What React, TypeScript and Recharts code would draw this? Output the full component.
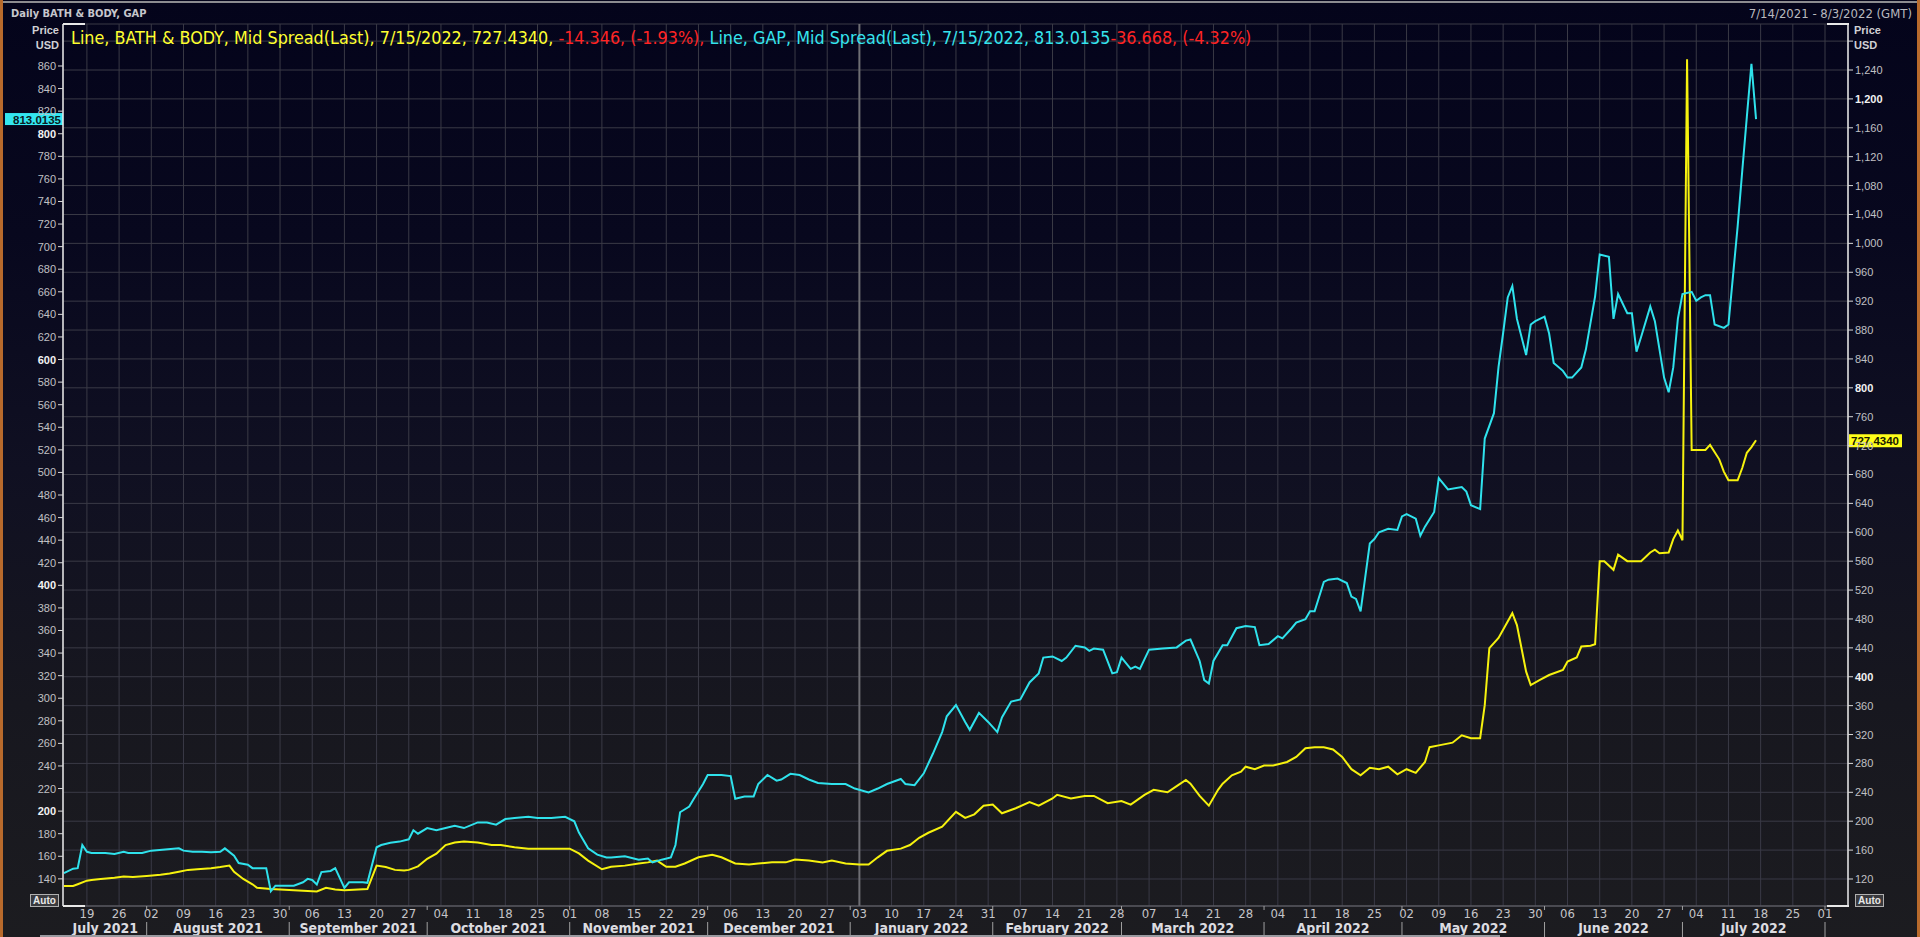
import React from 'react';
import { LineChart, Line, XAxis, YAxis, CartesianGrid, ReferenceLine } from 'recharts';

// x values are calendar days since 2021-07-14
const gapDays = [
  0, 2, 3, 4, 5, 6, 9, 11, 13, 14, 17, 19, 22, 25, 26, 28, 30, 32, 34, 35, 37, 38, 40, 41, 44, 45, 46, 48, 50, 52,
  53, 54, 55, 56, 58, 59, 61, 62, 65, 66, 68, 69, 71, 73, 75, 76, 77, 79, 81, 83, 85, 87, 90, 92, 94, 96, 98, 101, 103, 106,
  109, 111, 112, 114, 116, 118, 119, 122, 125, 127, 128, 130, 132, 133, 134, 136, 137, 139, 140, 143, 145, 146, 148, 150, 151, 153, 155, 156, 158, 160,
  162, 164, 167, 170, 172, 175, 177, 179, 182, 183, 185, 187, 189, 191, 192, 194, 196, 197, 199, 201, 203, 204, 206, 208, 210, 212, 213, 215, 217, 218,
  220, 222, 223, 224, 226, 228, 229, 230, 232, 233, 234, 236, 239, 242, 244, 245, 247, 248, 249, 250, 252, 253, 255, 257, 259, 260, 262, 264, 265, 267,
  268, 270, 271, 272, 274, 275, 277, 279, 280, 281, 282, 284, 285, 286, 288, 290, 291, 292, 294, 295, 296, 298, 299, 301, 304, 305, 306, 308, 309, 311,
  312, 313, 314, 315, 316, 318, 319, 320, 322, 323, 324, 326, 327, 328, 330, 331, 333, 334, 336, 337, 338, 340, 341, 342, 343, 345, 346, 347, 348, 349,
  350, 351, 352, 354, 355, 356, 357, 358, 359, 361, 362, 364, 365, 366, 367, 368,
];
const gapValues = [
  145, 149, 149.5, 170, 164, 163, 163, 162, 164, 163, 163, 165, 166, 167, 165, 164, 164, 163.5, 164, 167, 160.5, 154, 152.5, 149.5, 149.5, 129, 134, 134, 134, 137,
  140, 139, 135, 146, 147, 149.5, 132, 137, 137, 136.5, 168, 170, 172, 173, 175, 183, 180, 185, 183, 185, 187, 185, 190, 190, 188, 193, 194, 195, 194, 194,
  195, 191, 181, 167, 161.5, 159, 159, 160, 157, 158, 154.5, 157, 159, 170, 199, 204, 211, 224, 232, 232, 231, 211, 213, 213, 224, 232, 227, 228, 233, 232,
  228, 225, 224, 224, 220, 216.5, 220, 224, 228.5, 224, 223, 233.5, 251, 270, 284, 294, 279, 272, 287, 279, 270, 283, 297, 299, 314, 322, 336, 337, 333, 336,
  346.5, 345, 342, 344, 343, 322, 323, 336, 326, 328, 326, 343, 344, 345, 351, 352, 333, 316, 313, 333, 347, 347, 362, 364, 363, 347, 348, 355, 353, 362,
  367, 370, 377, 377, 403, 405, 406, 402, 390, 388, 377, 437, 441, 447, 450, 449, 461, 463, 459, 444, 452, 465, 495, 485, 487, 483, 471, 467.5, 530, 552.5,
  593.5, 623.5, 655, 665, 636, 604, 631, 634, 638, 623, 597, 590, 584, 584, 593, 609, 656, 693, 691, 636, 658, 641, 641, 607, 620, 647, 634, 609, 584, 571,
  593, 636, 658, 660, 652, 655, 657, 657, 631, 628, 631, 718, 767, 815, 862, 813.0135,
];

const bbwiDays = [
  0, 2, 3, 5, 6, 8, 11, 13, 15, 18, 21, 23, 25, 27, 29, 32, 34, 36, 37, 39, 41, 42, 45, 48, 52, 55, 57, 59, 61, 64,
  66, 68, 70, 72, 74, 75, 77, 79, 81, 83, 85, 87, 90, 93, 95, 98, 101, 103, 106, 109, 110, 112, 114, 117, 119, 122, 125, 127, 129, 131,
  133, 135, 138, 141, 143, 146, 149, 151, 154, 157, 159, 162, 165, 167, 170, 173, 175, 177, 179, 182, 184, 186, 188, 191, 194, 196, 198, 200, 202, 204,
  207, 210, 212, 215, 216, 219, 222, 224, 227, 230, 232, 235, 237, 240, 242, 244, 245, 247, 249, 251, 252, 254, 256, 257, 259, 261, 263, 266, 268, 270,
  272, 274, 276, 278, 280, 282, 284, 286, 288, 290, 292, 294, 296, 297, 299, 302, 304, 306, 308, 309, 310, 312, 315, 316, 318, 319, 321, 323, 326, 327,
  329, 330, 332, 333, 334, 335, 337, 338, 340, 342, 343, 345, 346, 347, 349, 350, 351, 352, 353, 354, 355, 356, 357, 358, 360, 361, 362, 364, 365, 366,
  367, 368,
];
const bbwiValues = [
  110.3, 110.3, 112.7, 117.7, 118.7, 120, 121.7, 123.6, 122.6, 124.1, 126, 127.6, 130, 132.6, 133.6, 135, 136.5, 138.5, 130, 120, 112.7, 107.8, 106, 105, 103.8, 102.8, 107.8, 105.3, 104.3, 105.3,
  106, 138.5, 136.5, 132.6, 131.6, 132.6, 137.5, 148, 155, 167, 170.5, 172, 170.5, 167, 167, 164, 162, 162, 162, 162, 162, 155.5, 145.5, 133.5, 137, 138.5, 141.5, 143, 145.5, 137,
  137, 141.5, 150, 153.5, 150, 141.5, 140, 141.5, 143, 143, 147, 145.5, 143, 145.5, 141.5, 140, 140, 150, 159, 162, 167, 177, 184, 192.5, 213, 204.5, 209.5, 221.5, 223, 211,
  218, 226.5, 221.5, 231.5, 236.5, 231.5, 235, 235, 225, 228, 223, 236.5, 243.5, 240, 248.5, 257, 252, 235, 221.5, 243.5, 252, 263.5, 268.5, 275.5, 272, 277, 277, 282, 289, 301,
  302.5, 302.5, 299.3, 289, 272, 263.5, 274, 272, 275.5, 265, 272, 267, 282, 302.5, 305, 308.7, 319, 315, 315, 360.6, 439.6, 453.6, 488, 471.6, 407, 388.5, 395.5, 402.4, 409.3, 421,
  426.6, 441.8, 443, 445, 560, 560, 548, 569, 560, 560, 560, 572, 576, 571, 572, 590.5, 602.5, 589, 1255, 714, 714, 714, 714, 721, 701, 684, 672, 672, 689, 710,
  718, 727.434,
];

const leftTicks = [140, 160, 180, 200, 220, 240, 260, 280, 300, 320, 340, 360, 380, 400, 420, 440, 460, 480, 500, 520, 540, 560, 580, 600, 620, 640, 660, 680, 700, 720, 740, 760, 780, 800, 820, 840, 860];
const leftBold = [200, 400, 600, 800];
const rightTicks = [120, 160, 200, 240, 280, 320, 360, 400, 440, 480, 520, 560, 600, 640, 680, 720, 760, 800, 840, 880, 920, 960, 1000, 1040, 1080, 1120, 1160, 1200, 1240, 1280];
const rightBold = [400, 800, 1200];
const rightHidden = [1280];

const monthNames = ['July 2021', 'August 2021', 'September 2021', 'October 2021', 'November 2021', 'December 2021', 'January 2022', 'February 2022', 'March 2022', 'April 2022', 'May 2022', 'June 2022', 'July 2022'];
const monthStarts = [18, 49, 79, 110, 140, 171, 202, 230, 261, 291, 322, 352, 383];
const firstMonday = 5; // 19 Jul 2021
const lastMonday = 383; // 1 Aug 2022
const yearStartTick = 173; // 3 Jan 2022

const X_DOMAIN: [number, number] = [-0.2, 388];
const LEFT_DOMAIN: [number, number] = [115.96, 897.2];
const RIGHT_DOMAIN: [number, number] = [82.6, 1303.7];

const START = Date.UTC(2021, 6, 14);

const weekTicks: number[] = [];
for (let d = firstMonday; d <= lastMonday; d += 7) weekTicks.push(d);

const monthBounds = [0, ...monthStarts];
const monthMids = monthNames.map((_, i) => (monthBounds[i] + monthBounds[i + 1]) / 2);
const monthAxisTicks = [...monthMids, ...monthStarts].sort((a, b) => a - b);

const gapData = gapDays.map((t, i) => ({ t, v: gapValues[i] }));
const bbwiData = bbwiDays.map((t, i) => ({ t, v: bbwiValues[i] }));

const NARROW = '"Liberation Sans Narrow", "DejaVu Sans Condensed", "Liberation Sans", sans-serif';
const AXISF = '"Liberation Sans", "DejaVu Sans", sans-serif';

const dayLabel = (d: number) => {
  const dt = new Date(START + d * 86400000);
  return String(dt.getUTCDate()).padStart(2, '0');
};

const DayTick = (props: any) => {
  const { x, y, payload } = props;
  return (
    <text x={x} y={y + 12} textAnchor="middle" fill="#c4c4c8" fontSize={13} fontFamily={NARROW}>
      {dayLabel(payload.value)}
    </text>
  );
};

const MonthTick = (props: any) => {
  const { x, y, payload } = props;
  const v = payload.value;
  const si = monthStarts.indexOf(v);
  if (si >= 0) {
    return (
      <g>
        <line x1={x} x2={x} y1={y - 14} y2={y - 10} stroke="#a0a0a0" strokeWidth={1} />
        <line x1={x} x2={x} y1={y + 2} y2={y + 17} stroke="#a0a0a0" strokeWidth={1} />
      </g>
    );
  }
  const mi = monthMids.indexOf(v);
  if (mi < 0) return null;
  return (
    <text x={x} y={y + 13} textAnchor="middle" fill="#dcdce0" fontSize={14} fontWeight="bold" fontFamily={NARROW}>
      {monthNames[mi]}
    </text>
  );
};

const LeftTick = (props: any) => {
  const { x, y, payload } = props;
  const bold = leftBold.includes(payload.value);
  return (
    <text x={x} y={y + 4} textAnchor="end" fill={bold ? '#f2f2f2' : '#c0c0c4'} fontWeight={bold ? 'bold' : 'normal'} fontSize={11} fontFamily={AXISF}>
      {payload.value}
    </text>
  );
};

const RightTick = (props: any) => {
  const { x, y, payload } = props;
  if (rightHidden.includes(payload.value)) return null;
  const bold = rightBold.includes(payload.value);
  return (
    <text x={x} y={y + 4} textAnchor="start" fill={bold ? '#f2f2f2' : '#c0c0c4'} fontWeight={bold ? 'bold' : 'normal'} fontSize={11} fontFamily={AXISF}>
      {payload.value.toLocaleString('en-US')}
    </text>
  );
};

const CyanTag = (props: any) => {
  const vb = props.viewBox || {};
  const x = vb.x;
  const y = vb.y;
  return (
    <g>
      <rect x={x - 58} y={y - 6} width={58} height={12} fill="#33e6f0" />
      <text x={x - 2} y={y + 4.5} textAnchor="end" fill="#0a1a20" fontSize={11.5} fontWeight="bold" fontFamily={AXISF}>
        813.0135
      </text>
    </g>
  );
};

const YellowTag = (props: any) => {
  const vb = props.viewBox || {};
  const x = vb.x + vb.width;
  const y = vb.y;
  return (
    <g>
      <rect x={x + 1} y={y - 6} width={53} height={13} fill="#ffff1a" />
      <text x={x + 3} y={y + 4.5} textAnchor="start" fill="#1a1a00" fontSize={11.5} fontWeight="bold" fontFamily={AXISF}>
        727.4340
      </text>
    </g>
  );
};

const abs = (s: React.CSSProperties): React.CSSProperties => ({ position: 'absolute', ...s });

export default function App() {
  return (
    <div
      style={{
        position: 'fixed',
        left: 0,
        top: 0,
        width: 1920,
        height: 937,
        overflow: 'hidden',
        background: 'linear-gradient(to bottom, #04041b 0%, #08081e 25%, #101022 50%, #17171f 75%, #1c1c20 100%)',
      }}
    >
      <LineChart width={1920} height={937} margin={{ top: 24, right: 0, bottom: 0, left: 0 }}>
        <CartesianGrid xAxisId="d" yAxisId="right" stroke="#3a3a46" strokeWidth={1} />
        <XAxis
          xAxisId="d"
          dataKey="t"
          type="number"
          domain={X_DOMAIN}
          allowDataOverflow
          ticks={weekTicks}
          interval={0}
          height={14}
          tickSize={0}
          tickMargin={0}
          tickLine={false}
          axisLine={{ stroke: '#6a6a70' }}
          tick={<DayTick />}
        />
        <XAxis
          xAxisId="m"
          dataKey="t"
          type="number"
          domain={X_DOMAIN}
          allowDataOverflow
          ticks={monthAxisTicks}
          interval={0}
          height={17}
          tickSize={0}
          tickMargin={0}
          tickLine={false}
          axisLine={false}
          tick={<MonthTick />}
        />
        <YAxis
          yAxisId="left"
          orientation="left"
          type="number"
          width={63}
          domain={LEFT_DOMAIN}
          allowDataOverflow
          ticks={leftTicks}
          interval={0}
          tickSize={5}
          tickMargin={2}
          tickLine={{ stroke: '#d8d8d8' }}
          axisLine={{ stroke: '#e8e8e8', strokeWidth: 1.5 }}
          tick={<LeftTick />}
        />
        <YAxis
          yAxisId="right"
          orientation="right"
          type="number"
          width={72}
          domain={RIGHT_DOMAIN}
          allowDataOverflow
          ticks={rightTicks}
          interval={0}
          tickSize={5}
          tickMargin={2}
          tickLine={{ stroke: '#d8d8d8' }}
          axisLine={{ stroke: '#e8e8e8', strokeWidth: 1.5 }}
          tick={<RightTick />}
        />
        <ReferenceLine xAxisId="d" yAxisId="right" x={yearStartTick} stroke="#6e6e74" strokeWidth={2} />
        <Line
          data={bbwiData}
          dataKey="v"
          xAxisId="d"
          yAxisId="right"
          type="linear"
          stroke="#f6f20e"
          strokeWidth={2}
          dot={false}
          isAnimationActive={false}
        />
        <Line
          data={gapData}
          dataKey="v"
          xAxisId="d"
          yAxisId="left"
          type="linear"
          stroke="#2fe2ec"
          strokeWidth={2}
          dot={false}
          isAnimationActive={false}
        />
        <ReferenceLine xAxisId="d" yAxisId="left" y={813.0135} stroke="none" label={(p: any) => <CyanTag {...p} />} />
        <ReferenceLine xAxisId="d" yAxisId="right" y={727.434} stroke="none" label={(p: any) => <YellowTag {...p} />} />
      </LineChart>

      {/* frame */}
      <div style={abs({ left: 0, top: 1, width: 1920, height: 2, background: '#8c8c90' })} />
      <div style={abs({ left: 0, top: 0, width: 3, height: 937, background: '#b86a2c' })} />
      <div style={abs({ right: 0, top: 0, width: 3, height: 937, background: '#b86a2c' })} />
      <div style={abs({ left: 40, top: 935, width: 1460, height: 2, background: '#9a9aa0' })} />

      {/* axis corner brackets */}
      <div style={abs({ left: 63, top: 23, width: 22, height: 1.5, background: '#e8e8e8' })} />
      <div style={abs({ left: 63, top: 905, width: 22, height: 1.5, background: '#e8e8e8' })} />
      <div style={abs({ left: 1827, top: 23, width: 22, height: 1.5, background: '#e8e8e8' })} />
      <div style={abs({ left: 1827, top: 905, width: 22, height: 1.5, background: '#e8e8e8' })} />

      {/* header texts */}
      <div style={abs({ left: 11, top: 7, fontFamily: NARROW, fontSize: 11, fontWeight: 'bold', color: '#c6c6cc', whiteSpace: 'nowrap' })}>
        Daily BATH &amp; BODY, GAP
      </div>
      <div style={abs({ right: 8, top: 6, fontFamily: NARROW, fontSize: 13, color: '#b8b8be', whiteSpace: 'nowrap' })}>
        7/14/2021 - 8/3/2022 (GMT)
      </div>
      <div style={abs({ left: 0, width: 59, top: 23, textAlign: 'right', fontFamily: AXISF, fontSize: 11, fontWeight: 'bold', color: '#d0d0d4', lineHeight: '15px' })}>
        Price
        <br />
        USD
      </div>
      <div style={abs({ left: 1854, top: 23, textAlign: 'left', fontFamily: AXISF, fontSize: 11, fontWeight: 'bold', color: '#d0d0d4', lineHeight: '15px' })}>
        Price
        <br />
        USD
      </div>
      <div style={abs({ left: 71, top: 27, fontFamily: NARROW, fontSize: 17.8, color: '#ffff30', whiteSpace: 'nowrap' })}>
        <span style={{ color: '#ffff30' }}>Line, BATH &amp; BODY, Mid Spread(Last), 7/15/2022, 727.4340, </span>
        <span style={{ color: '#ff2424' }}>-14.346, (-1.93%), </span>
        <span style={{ color: '#36e4ee' }}>Line, GAP, Mid Spread(Last), 7/15/2022, 813.0135</span>
        <span style={{ color: '#ff2424' }}>-36.668, (-4.32%)</span>
      </div>

      {/* Auto boxes */}
      <div style={abs({ left: 30, top: 894, width: 27, height: 11, border: '1px solid #b0b0b0', background: '#3a3a3e', color: '#e8e8e8', fontFamily: AXISF, fontSize: 10, fontWeight: 'bold', lineHeight: '11px', textAlign: 'center' })}>
        Auto
      </div>
      <div style={abs({ left: 1855, top: 894, width: 27, height: 11, border: '1px solid #b0b0b0', background: '#3a3a3e', color: '#e8e8e8', fontFamily: AXISF, fontSize: 10, fontWeight: 'bold', lineHeight: '11px', textAlign: 'center' })}>
        Auto
      </div>
    </div>
  );
}
